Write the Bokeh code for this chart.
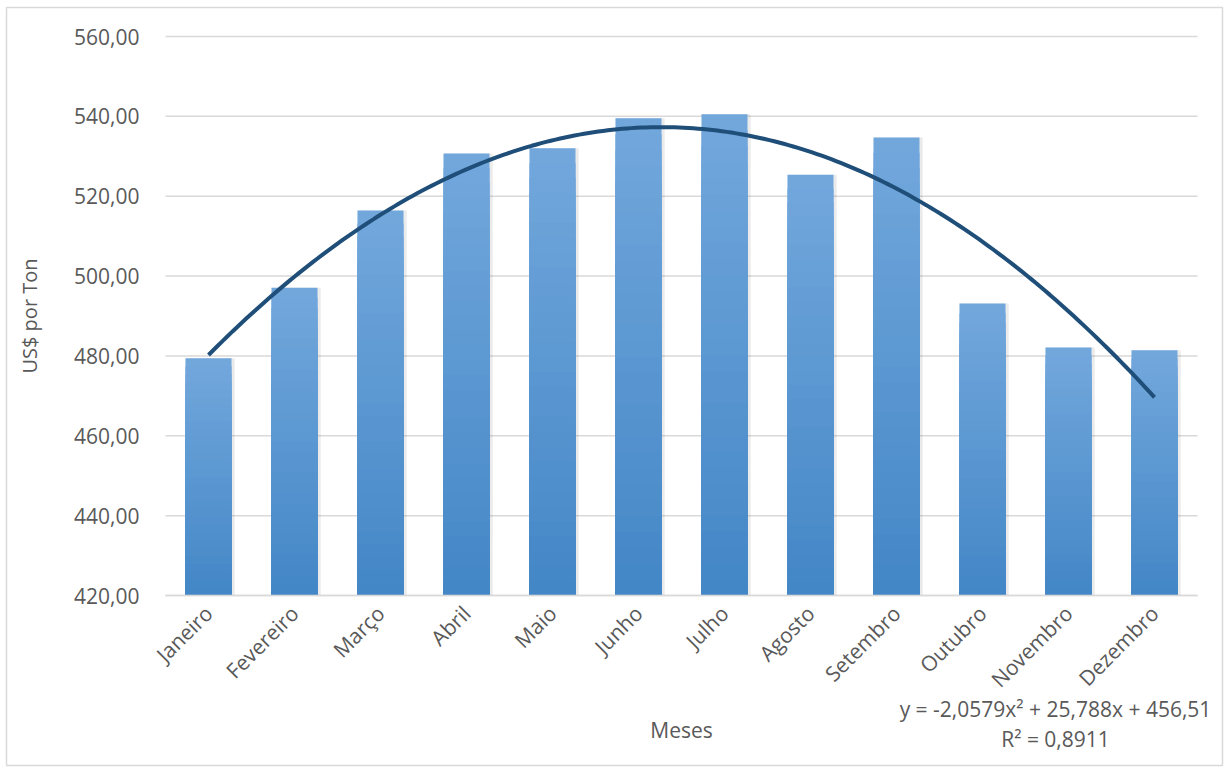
import numpy as np
from bokeh.plotting import figure
from bokeh.models import (Range1d, FixedTicker, CustomJSTickFormatter, Label,
                          ColumnDataSource, LinearAxis)
from bokeh.embed import file_html
from bokeh.resources import INLINE

# ---- data ----
months = ["Janeiro", "Fevereiro", "Março", "Abril", "Maio", "Junho", "Julho",
          "Agosto", "Setembro", "Outubro", "Novembro", "Dezembro"]
prices = [479.4, 497.1, 516.4, 530.7, 532.0, 539.5, 540.5, 525.4, 534.7, 493.1, 482.1, 481.4]
trend_coef = [-2.0579, 25.788, 456.51]   # y = a x^2 + b x + c
r2 = 0.8911
y_ticks = [420, 440, 460, 480, 500, 520, 540, 560]
y_min, y_max = 420, 560

FONT = "Open Sans"
TXT = "#595959"
GRID = "#d9d9d9"
FS = "21px"

# ---- layout: frame spans the whole chart area (inside the thin border) ----
W, H = 1229, 771
fl, ft, fr, fb = 6, 7, 1222, 765          # frame edges (px)
pl, pt, pr, pb = 165, 36, 1197, 595       # plot area edges (px)
n = len(months)
xpx = (pr - pl) / n                       # px per category
ypx = (pb - pt) / (y_max - y_min)         # px per unit
x0 = 0.5 - (pl - fl) / xpx
x1 = n + 0.5 + (fr - pr) / xpx
y1 = y_max + (pt - ft) / ypx
y0 = y_min - (fb - pb) / ypx

p = figure(width=W, height=H, output_backend="svg", toolbar_location=None,
           x_range=Range1d(x0, x1), y_range=Range1d(y0, y1),
           x_axis_location=None, y_axis_location=None,
           min_border_left=fl, min_border_top=ft, min_border_right=W - fr,
           min_border_bottom=H - fb)
p.outline_line_color = GRID
p.outline_line_width = 1.5
p.background_fill_color = "white"
p.border_fill_color = "white"

# gridlines
p.ygrid.grid_line_color = None
p.xgrid.grid_line_color = None
p.segment(x0=[0.5] * len(y_ticks), x1=[n + 0.5] * len(y_ticks), y0=y_ticks, y1=y_ticks,
          line_color=GRID, line_width=1.5)

# bars: nested quads give a vertical gradient (dark bottom -> light top)
xs = np.arange(1, n + 1)
bw = 0.535
N = 30
top_c = np.array([0x72, 0xa7, 0xdc], dtype=float)
bot_c = np.array([0x42, 0x86, 0xc6], dtype=float)
# soft shadow
p.vbar(x=xs + 0.02, top=prices, bottom=y_min, width=bw + 0.035, fill_color="#000000",
       fill_alpha=0.08, line_color=None)
L, R, B, T, C = [], [], [], [], []
for k in range(N):
    f = 1 - k / N
    c = bot_c + (top_c - bot_c) * f
    col = "#%02x%02x%02x" % tuple(int(round(q)) for q in c)
    for x, v in zip(xs, prices):
        L.append(x - bw / 2); R.append(x + bw / 2)
        B.append(y_min); T.append(y_min + (v - y_min) * f)
        C.append(col)
src = ColumnDataSource(dict(left=L, right=R, bottom=B, top=T, color=C))
p.quad(left="left", right="right", bottom="bottom", top="top", fill_color="color",
       line_color=None, source=src)

# trend line
tx = np.linspace(1, 12, 200)
a, b, c0 = trend_coef
ty = a * tx ** 2 + b * tx + c0
p.line(tx, ty, line_color="#1f4e79", line_width=4)

# x axis (fixed at y=420)
xa = LinearAxis(fixed_location=y_min, bounds=(0.5, n + 0.5))
xa.ticker = FixedTicker(ticks=list(xs))
xa.major_label_overrides = {int(i): m for i, m in zip(xs, months)}
xa.major_label_orientation = np.pi / 4
xa.major_tick_line_color = None
xa.minor_tick_line_color = None
xa.axis_line_color = GRID
xa.axis_line_width = 1.5
xa.major_label_text_font = FONT
xa.major_label_text_font_size = FS
xa.major_label_text_color = TXT
xa.major_label_standoff = 8
xa.axis_label = "Meses"
xa.axis_label_text_font = FONT
xa.axis_label_text_font_size = FS
xa.axis_label_text_font_style = "normal"
xa.axis_label_text_color = TXT
xa.axis_label_standoff = 10
p.add_layout(xa, "below")

# y axis (fixed at x=0.5)
ya = LinearAxis(fixed_location=0.5, bounds=(y_min, y_max))
ya.ticker = FixedTicker(ticks=y_ticks)
ya.formatter = CustomJSTickFormatter(code="return tick.toFixed(2).replace('.', ',');")
ya.major_tick_line_color = None
ya.minor_tick_line_color = None
ya.axis_line_color = None
ya.major_label_text_font = FONT
ya.major_label_text_font_size = FS
ya.major_label_text_color = TXT
ya.major_label_standoff = 20
ya.axis_label = "US$ por Ton"
ya.axis_label_text_font = FONT
ya.axis_label_text_font_size = "20px"
ya.axis_label_text_font_style = "normal"
ya.axis_label_text_color = TXT
ya.axis_label_standoff = 28
p.add_layout(ya, "left")

# trendline equation
def fmt(v, d):
    return f"{v:.{d}f}".replace(".", ",")
eq = f"y = {fmt(a, 4)}x² + {fmt(b, 3)}x + {fmt(c0, 2)}"
ex = 0.5 + (1055 - pl) / xpx
p.add_layout(Label(x=ex, y=y_max - (708 - pt) / ypx, text=eq, text_align="center",
                   text_baseline="middle", text_font=FONT, text_font_size=FS,
                   text_color=TXT))
p.add_layout(Label(x=ex, y=y_max - (738 - pt) / ypx, text=f"R² = {fmt(r2, 4)}",
                   text_align="center", text_baseline="middle", text_font=FONT,
                   text_font_size=FS, text_color=TXT))

open("out.html", "w").write(file_html(p, INLINE))
